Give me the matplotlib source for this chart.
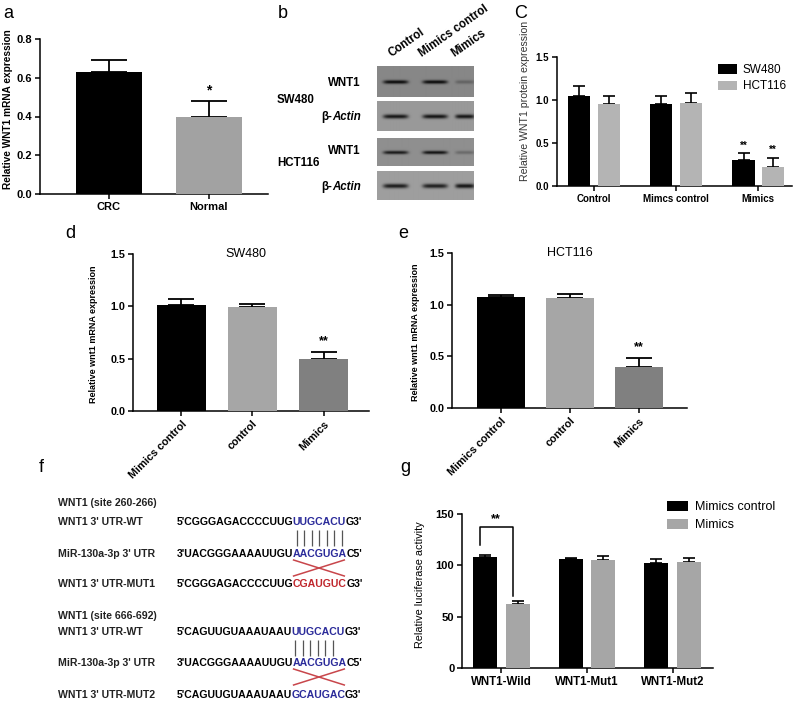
import matplotlib
matplotlib.use("Agg")
import matplotlib.pyplot as plt
from matplotlib.font_manager import FontProperties
import numpy as np

plt.rcParams['font.family'] = ['Liberation Sans', 'DejaVu Sans']

W, H = 800, 706

# ---- data ----
a_groups = ["CRC", "Normal"]
a_means = [0.63, 0.40]
a_errs = [0.06, 0.08]

blot_lanes = ["Control", "Mimics control", "Mimics"]
wnt1_sw480 = [0.85, 0.85, 0.25]
actin_sw480 = [0.90, 0.92, 0.90]
wnt1_hct116 = [0.80, 0.85, 0.25]
actin_hct116 = [0.90, 0.88, 0.95]

c_groups = ["Control", "Mimcs control", "Mimics"]
c_sw480 = [1.05, 0.95, 0.30]
c_sw480_err = [0.11, 0.10, 0.08]
c_hct116 = [0.95, 0.97, 0.22]
c_hct116_err = [0.10, 0.11, 0.11]

de_groups = ["Mimics control", "control", "Mimics"]
d_means = [1.01, 0.99, 0.50]
d_errs = [0.06, 0.03, 0.06]
e_means = [1.07, 1.06, 0.40]
e_errs = [0.02, 0.04, 0.08]

g_groups = ["WNT1-Wild", "WNT1-Mut1", "WNT1-Mut2"]
g_mc = [108, 106, 102]
g_mc_err = [2, 1, 4]
g_mim = [62, 105, 103]
g_mim_err = [3, 4, 4]

fig = plt.figure(figsize=(8, 7.06), dpi=100)


def px_axes(l, t, r, b):
    return fig.add_axes([l / W, 1 - b / H, (r - l) / W, (b - t) / H])


def style(ax, fs=8):
    for s in ['top', 'right']:
        ax.spines[s].set_visible(False)
    for s in ['left', 'bottom']:
        ax.spines[s].set_linewidth(1.1)
    ax.tick_params(width=1.1, length=3.5, labelsize=fs, pad=2)
    for lab in ax.get_yticklabels() + ax.get_xticklabels():
        lab.set_fontweight('bold')


def bars(ax, x, h, err, w, color, cap):
    ax.bar(x, h, w, color=color, zorder=3)
    ax.errorbar(x, h, yerr=[np.zeros(len(h)), err], fmt='none', ecolor='black',
                elinewidth=1.3, capsize=cap, capthick=1.3, zorder=2)


# overlay for panel letters, blot labels and panel f
ov = fig.add_axes([0, 0, 1, 1])
ov.set_xlim(0, W)
ov.set_ylim(H, 0)
ov.axis('off')
ov.patch.set_alpha(0)

for lt, x, y in [("a", 8, 14), ("b", 283, 14), ("C", 521, 14), ("d", 70, 234),
                 ("e", 403, 234), ("f", 41, 467), ("g", 405, 467)]:
    ov.text(x, y, lt, fontsize=13, ha='center', va='center')

# ---- panel a ----
ax = px_axes(40, 39, 268, 194)
xa = np.arange(len(a_groups))
bars(ax, xa, a_means, a_errs, 0.66, ['black', '#a2a2a2'], 13)
ax.set_xlim(-0.69, 1.59)
ax.set_ylim(0, 0.8)
ax.set_yticks([0, 0.2, 0.4, 0.6, 0.8])
ax.set_xticks(xa, a_groups)
ax.tick_params(axis='x', pad=9)
ax.set_ylabel("Relative WNT1 mRNA expression", fontsize=7.3, fontweight='bold')
ax.yaxis.set_label_coords(-0.118, 0.55)
style(ax, 8)
ax.text(1, a_means[1] + a_errs[1] + 0.02, "*", ha='center', va='bottom', fontsize=10, fontweight='bold')

# ---- panel b (western blot) ----
strips = [(wnt1_sw480, 66, 97, 0.53, 3.2), (actin_sw480, 101, 131, 0.60, 3.6),
          (wnt1_hct116, 138, 166, 0.56, 3.0), (actin_hct116, 171, 200, 0.62, 3.8)]
lane_frac = [0.19, 0.60, 0.91]
lane_halfw = [0.13, 0.13, 0.10]
for vals, t, b, bg, sig in strips:
    bax = px_axes(377, t, 473, b)
    nx, ny = 96, b - t
    xx = np.linspace(0, 1, nx)
    yy = np.arange(ny) - ny / 2
    img = np.full((ny, nx), bg)
    for v, cx, hw in zip(vals, lane_frac, lane_halfw):
        prof_x = np.exp(-((xx - cx) / hw) ** 6)
        prof_y = np.exp(-(yy / (sig * 0.6)) ** 2)
        img -= v * 0.55 * np.outer(prof_y, prof_x)
    bax.imshow(np.clip(img, 0, 1), cmap='gray', vmin=0, vmax=1, aspect='auto',
               interpolation='bilinear')
    bax.set_xticks([])
    bax.set_yticks([])
    for s in bax.spines.values():
        s.set_visible(False)

bfs = 8.3
for name, x in zip(blot_lanes, [393, 424, 456]):
    ov.text(x, 59, name, rotation=35, rotation_mode='anchor', ha='left', va='bottom',
            fontsize=bfs, fontweight='bold')
for y in [83, 151]:
    ov.text(361, y, "WNT1", ha='right', va='center', fontsize=bfs, fontweight='bold')
for y in [117, 187]:
    t = ov.text(361, y, "Actin", ha='right', va='center', fontsize=bfs, fontweight='bold', style='italic')
    ov.annotate("β-", xy=(0, 0), xycoords=t, ha='right', va='bottom', fontsize=bfs, fontweight='bold')
ov.text(277, 100, "SW480", ha='left', va='center', fontsize=bfs, fontweight='bold')
ov.text(277, 163, "HCT116", ha='left', va='center', fontsize=bfs, fontweight='bold')

# ---- panel c ----
ax = px_axes(557, 57, 792, 186)
xc = np.arange(len(c_groups))
off = 0.18
ax.bar(xc - off, c_sw480, 0.27, color='black', zorder=3, label='SW480')
ax.bar(xc + off, c_hct116, 0.27, color='#b4b4b4', zorder=3, label='HCT116')
ax.errorbar(xc - off, c_sw480, yerr=[np.zeros(3), c_sw480_err], fmt='none', ecolor='black',
            elinewidth=1.2, capsize=4.5, capthick=1.2, zorder=2)
ax.errorbar(xc + off, c_hct116, yerr=[np.zeros(3), c_hct116_err], fmt='none', ecolor='black',
            elinewidth=1.2, capsize=4.5, capthick=1.2, zorder=2)
ax.set_xlim(-0.45, 2.41)
ax.set_ylim(0, 1.5)
ax.set_yticks([0, 0.5, 1.0, 1.5])
ax.set_xticks(xc, c_groups)
ax.set_ylabel("Relative WNT1 protein expression", fontsize=7.6, color='#333333')
ax.yaxis.set_label_coords(-0.115, 0.66)
style(ax, 7)
for xs, m, e in [(xc[2] - off, c_sw480[2], c_sw480_err[2]), (xc[2] + off, c_hct116[2], c_hct116_err[2])]:
    ax.text(xs, m + e + 0.03, "**", ha='center', va='bottom', fontsize=7, fontweight='bold')
ax.legend(loc='upper left', bbox_to_anchor=(0.64, 1.03), frameon=False, fontsize=8.5,
          handlelength=1.6, handleheight=0.9, labelspacing=0.4, handletextpad=0.5)

# ---- panels d and e ----
for (l, t, r, b), means, errs, title, tx, xl, lx in [
        ((133, 254, 369, 411), d_means, d_errs, "SW480", 0.48, (-0.68, 2.64), -0.15),
        ((452, 253, 687, 408), e_means, e_errs, "HCT116", 0.50, (-0.71, 2.70), -0.136)]:
    ax = px_axes(l, t, r, b)
    xd = np.arange(len(de_groups))
    bars(ax, xd, means, errs, 0.69, ['black', '#a6a6a6', '#808080'], 9.5)
    ax.set_xlim(*xl)
    ax.set_ylim(0, 1.5)
    ax.set_yticks([0, 0.5, 1.0, 1.5])
    ax.set_xticks(xd, de_groups, rotation=45, ha='right', rotation_mode='anchor')
    ax.set_ylabel("Relative wnt1 mRNA expression", fontsize=6.5, fontweight='bold')
    ax.yaxis.set_label_coords(lx, 0.49)
    style(ax, 7.8)
    ax.text(tx, 1.0, title, transform=ax.transAxes, ha='center', va='center', fontsize=9)
    ax.text(2, means[2] + errs[2] + 0.05, "**", ha='center', va='bottom', fontsize=9, fontweight='bold')

# ---- panel f ----
fs = 7.6
labels_f = [("WNT1 (site 260-266)", 503), ("WNT1 3' UTR-WT", 522), ("MiR-130a-3p 3' UTR", 554),
            ("WNT1 3' UTR-MUT1", 584), ("WNT1 (site 666-692)", 616), ("WNT1 3' UTR-WT", 632),
            ("MiR-130a-3p 3' UTR", 663), ("WNT1 3' UTR-MUT2", 695)]
for s, y in labels_f:
    ov.text(58, y, s, fontsize=fs, fontweight='bold', va='center', color='#222222')

blue, red = '#2b2b9a', '#c0272d'
seqs = [
    (522, "5'CGGGAGACCCCUUG", "UUGCACU", "G3'", blue),
    (554, "3'UACGGGAAAAUUGU", "AACGUGA", "C5'", blue),
    (584, "5'CGGGAGACCCCUUG", "CGAUGUC", "G3'", red),
    (632, "5'CAGUUGUAAAUAAU", "UUGCACU", "G3'", blue),
    (663, "3'UACGGGAAAAUUGU", "AACGUGA", "C5'", blue),
    (695, "5'CAGUUGUAAAUAAU", "GCAUGAC", "G3'", blue),
]
rend = fig.canvas.get_renderer()
fprop = FontProperties(family='Liberation Sans', weight='bold', size=fs)


def tw(s):
    # ink width in figure pixels (== overlay data units)
    return rend.get_text_width_height_descent(s, fprop, ismath=False)[0]


x_seq = 177
core_span = []
for y, pre, core, post, col in seqs:
    full = pre + core + post
    x_core = x_seq + tw(full) - tw(core + post) - 0.8
    x_post = x_seq + tw(full) - tw(post) - 1.2
    kw = dict(fontsize=fs, fontweight='bold', va='center', ha='left')
    ov.text(x_seq, y, pre, color='black', **kw)
    ov.text(x_core, y, core, color=col, **kw)
    ov.text(x_post, y, post, color='black', **kw)
    core_span.append((x_core, x_post))

for idx, nlines, ymid, ycross in [(0, 7, 538, 568), (3, 6, 648, 677)]:
    x0, x1 = core_span[idx]
    step = (x1 - x0) / 7
    xs = x0 + step * (np.arange(nlines) + 0.5)
    ov.vlines(xs, ymid - 8, ymid + 8, color='#555555', lw=0.9)
    m0, m1 = core_span[idx + 1]
    ov.plot([m0 + 1, m1 - 2], [ycross - 8, ycross + 8], color='#c8464b', lw=1.1)
    ov.plot([m0 + 1, m1 - 2], [ycross + 8, ycross - 8], color='#c8464b', lw=1.1)

# ---- panel g ----
ax = px_axes(462, 514, 713, 668)
xg = np.arange(len(g_groups))
off = 0.19
ax.bar(xg - off, g_mc, 0.28, color='black', zorder=3, label='Mimics control')
ax.bar(xg + off, g_mim, 0.28, color='#a6a6a6', zorder=3, label='Mimics')
ax.errorbar(xg - off, g_mc, yerr=[np.zeros(3), g_mc_err], fmt='none', ecolor='black',
            elinewidth=1.2, capsize=4.5, capthick=1.2, zorder=2)
ax.errorbar(xg + off, g_mim, yerr=[np.zeros(3), g_mim_err], fmt='none', ecolor='black',
            elinewidth=1.2, capsize=4.5, capthick=1.2, zorder=2)
ax.set_xlim(-0.46, 2.47)
ax.set_ylim(0, 150)
ax.set_yticks([0, 50, 100, 150])
ax.set_xticks(xg, g_groups)
ax.tick_params(axis='x', pad=6)
ax.set_ylabel("Relative luciferase activity", fontsize=7.8)
ax.yaxis.set_label_coords(-0.147, 0.54)
style(ax, 8)
for lab in ax.get_xticklabels():
    lab.set_fontsize(8.3)
top_b = max(g_mc[0], g_mim[0]) + 29
xl_b, xr_b = xg[0] - off - 0.06, xg[0] + off - 0.06
ax.plot([xl_b, xl_b, xr_b, xr_b],
        [g_mc[0] + g_mc_err[0] + 10, top_b, top_b, g_mim[0] + g_mim_err[0] + 5],
        color='black', lw=1.1, zorder=4)
ax.text((xl_b + xr_b) / 2, top_b + 2, "**", ha='center', va='bottom', fontsize=9, fontweight='bold')
ax.legend(loc='upper left', bbox_to_anchor=(0.77, 1.16), frameon=False, fontsize=9,
          handlelength=1.7, handleheight=0.9, labelspacing=0.45, handletextpad=0.6)

fig.savefig("out.png", dpi=100)
